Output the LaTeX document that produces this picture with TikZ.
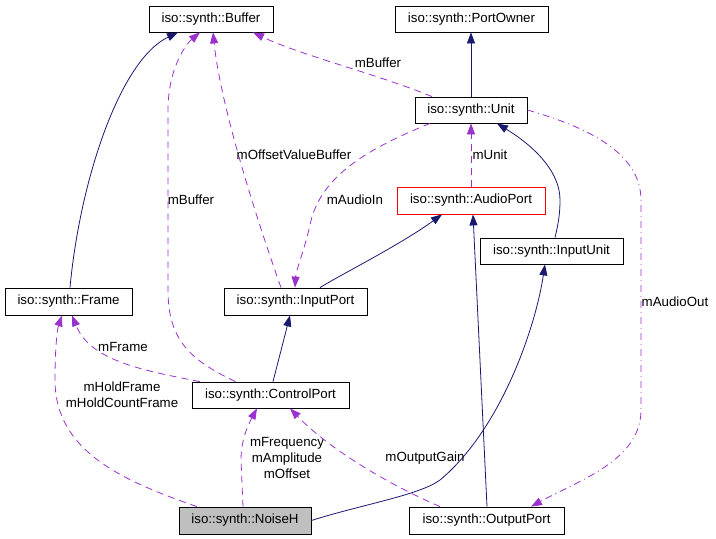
\documentclass[tikz,border=0pt]{standalone}
\usepackage{fontspec}
\setmainfont{Liberation Sans}
\usetikzlibrary{arrows.meta}
\definecolor{navy}{HTML}{191970}
\definecolor{orchid}{HTML}{9A32CD}
\definecolor{nodegray}{HTML}{BFBFBF}
\begin{document}
\begin{tikzpicture}[x=1pt,y=-1pt,
  font=\fontsize{13.3}{16}\selectfont,
  cls/.style={draw=black, line width=0.8pt, minimum height=26pt, inner sep=0pt, fill=white},
  lbl/.style={inner sep=0pt, align=center},
  inh/.style={draw=navy, line width=0.8pt, -{Triangle[length=11pt,width=8pt]}},
  use/.style={draw=orchid, line width=0.8pt, dash pattern=on 7pt off 5pt, -{Triangle[length=11pt,width=8pt]}},
  usedot/.style={draw=orchid, line width=0.8pt, dash pattern=on 7pt off 4pt on 1pt off 4pt, -{Triangle[length=11pt,width=8pt]}}
]
\path[fill=white, use as bounding box] (0,0) rectangle (716,539);

% classes
\node[cls, minimum width=124pt] (buffer) at (211,19) {iso::synth::Buffer};
\node[cls, minimum width=153pt] (portowner) at (471.5,19) {iso::synth::PortOwner};
\node[cls, minimum width=112pt] (unit) at (471,110) {iso::synth::Unit};
\node[cls, minimum width=148pt, minimum height=27pt, draw=red] (audioport) at (471,200.5) {iso::synth::AudioPort};
\node[cls, minimum width=143pt] (inputunit) at (551.5,251) {iso::synth::InputUnit};
\node[cls, minimum width=127pt, minimum height=27pt] (frame) at (68.5,301.5) {iso::synth::Frame};
\node[cls, minimum width=143pt, minimum height=27pt] (inputport) at (295.5,301.5) {iso::synth::InputPort};
\node[cls, minimum width=157pt] (controlport) at (270.5,395) {iso::synth::ControlPort};
\node[cls, minimum width=132pt, minimum height=27pt, fill=nodegray] (noiseh) at (245,520.5) {iso::synth::NoiseH};
\node[cls, minimum width=155pt, minimum height=27pt] (outputport) at (486.5,520.5) {iso::synth::OutputPort};

% inheritance (solid navy)
\draw[inh] ([xshift=1.5pt]frame.north) .. controls (80,180) and (120,60) .. ([xshift=-33pt]buffer.south);
\draw[inh] (unit.north) -- ([xshift=-0.5pt]portowner.south);
\draw[inh] ([xshift=3.5pt]inputunit.north) .. controls (558,225) and (560,215) .. (560,200)
   .. controls (560,175) and (540,150) .. ([xshift=26pt]unit.south);
\draw[inh] ([xshift=24.5pt]inputport.north) .. controls (340,275) and (400,245) .. ([xshift=-29pt]audioport.south);
\draw[inh] ([xshift=2.5pt]controlport.north) -- ([xshift=-5.5pt]inputport.south);
\draw[inh] ([xshift=0.5pt]outputport.north) -- ([xshift=2pt]audioport.south);
\draw[inh] (noiseh.east) .. controls (360,505) and (420,495) .. (440,480)
   .. controls (500,430) and (535,330) .. ([xshift=-6.5pt]inputunit.south);

% usage (dashed orchid)
\draw[use] ([xshift=-35pt]controlport.north) .. controls (190,360) and (168,340) .. (168,290)
   -- (168,110) .. controls (168,70) and (185,45) .. ([xshift=-11pt]buffer.south);
\node[lbl] (lmbuffer1) at (191,200) {mBuffer};

\draw[use] ([xshift=-14.5pt]inputport.north) .. controls (250,200) and (220,100) .. ([xshift=2pt]buffer.south);
\node[lbl] (loffset) at (294,155) {mOffsetValueBuffer};

\draw[use] ([xshift=-39pt]unit.north) .. controls (380,75) and (300,55) .. ([xshift=42pt]buffer.south);
\node[lbl] (lmbuffer2) at (378,63) {mBuffer};

\draw[use] (audioport.north) -- (unit.south);
\node[lbl] (lunit) at (490,155) {mUnit};

\draw[use] ([xshift=-41pt]unit.south) .. controls (370,148) and (320,175) .. (310,225)
   .. controls (303,255) and (296,270) .. ([xshift=-0.5pt]inputport.north);
\node[lbl] (laudioin) at (355,200) {mAudioIn};

\draw[usedot] (unit.east) .. controls (580,125) and (641,150) .. (641,200)
   -- (641,410) .. controls (641,460) and (580,480) .. ([xshift=44.5pt]outputport.north);
\node[lbl] (laudioout) at (675,302) {mAudioOut};

\draw[use] ([xshift=-70.5pt]controlport.north) .. controls (140,370) and (90,360) .. ([xshift=3.5pt]frame.south);
\node[lbl] (lframe) at (123,347) {mFrame};

\draw[use] ([xshift=-48pt]noiseh.north) .. controls (120,480) and (55,450) .. (55,380)
   .. controls (55,350) and (57,330) .. ([xshift=-6.5pt]frame.south);
\node[lbl] (lhold) at (122,395) {mHoldFrame\\mHoldCountFrame};

\draw[use] ([xshift=-2pt]noiseh.north) -- (241,460) .. controls (241,440) and (248,425) .. ([xshift=-13.5pt]controlport.south);
\node[lbl] (lfreq) at (287,458) {mFrequency\\mAmplitude\\mOffset};

\draw[use] ([xshift=-46.5pt]outputport.north) .. controls (390,485) and (330,450) .. ([xshift=19.5pt]controlport.south);
\node[lbl] (lgain) at (425,458) {mOutputGain};
\end{tikzpicture}
\end{document}
